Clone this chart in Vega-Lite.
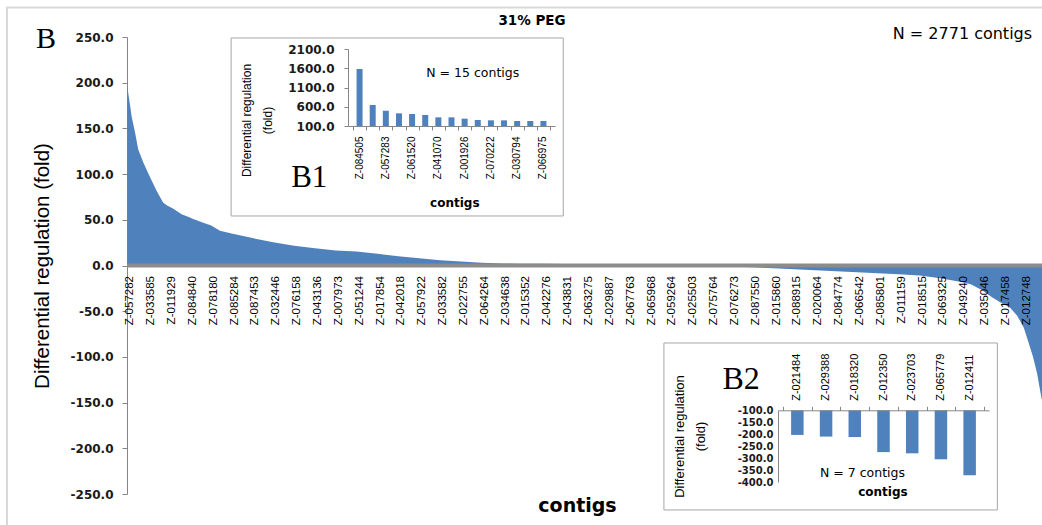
{
  "$schema": "https://vega.github.io/schema/vega-lite/v6.json",
  "width": 915,
  "height": 457,
  "autosize": {"type": "none"},
  "padding": {"left": 127, "top": 37, "right": 0, "bottom": 31},
  "background": "#ffffff",
  "config": {
    "font": "Liberation Sans",
    "view": {"stroke": null},
    "axis": {"grid": false, "labelOverlap": false, "domainColor": "#868686", "tickColor": "#868686", "labelColor": "#1a1a1a", "titleColor": "#000000", "labelExpr": "replace(datum.label, '\u2212', '-')"},
    "text": {"color": "#000000"}
  },
  "datasets": {
    "main": [
      {"rank": 1, "contig": "Z-057282", "fold": 197},
      {"rank": 4, "fold": 188},
      {"rank": 9, "fold": 176},
      {"rank": 14, "fold": 163},
      {"rank": 24, "fold": 146},
      {"rank": 34, "fold": 127},
      {"rank": 49, "fold": 113},
      {"rank": 64, "contig": "Z-033585", "fold": 101},
      {"rank": 89, "fold": 82},
      {"rank": 109, "fold": 69},
      {"rank": 120, "fold": 66},
      {"rank": 127, "contig": "Z-011929", "fold": 64.5},
      {"rank": 140, "fold": 62},
      {"rank": 165, "fold": 56},
      {"rank": 190, "contig": "Z-084840", "fold": 52.5},
      {"rank": 200, "fold": 51},
      {"rank": 241, "fold": 45.5},
      {"rank": 253, "contig": "Z-078180", "fold": 44},
      {"rank": 281, "fold": 38},
      {"rank": 316, "contig": "Z-085284", "fold": 35},
      {"rank": 379, "contig": "Z-087453", "fold": 30},
      {"rank": 442, "contig": "Z-032446", "fold": 25.5},
      {"rank": 505, "contig": "Z-076158", "fold": 21.7},
      {"rank": 568, "contig": "Z-043136", "fold": 19},
      {"rank": 631, "contig": "Z-007973", "fold": 16.5},
      {"rank": 694, "contig": "Z-051244", "fold": 15.2},
      {"rank": 757, "contig": "Z-017854", "fold": 12.8},
      {"rank": 820, "contig": "Z-042018", "fold": 10},
      {"rank": 883, "contig": "Z-057922", "fold": 7.8},
      {"rank": 946, "contig": "Z-033582", "fold": 5.8},
      {"rank": 1009, "contig": "Z-022755", "fold": 4.3},
      {"rank": 1072, "contig": "Z-064264", "fold": 3.1},
      {"rank": 1135, "contig": "Z-034638", "fold": 2.2},
      {"rank": 1198, "contig": "Z-015352", "fold": 1.9},
      {"rank": 1261, "contig": "Z-042276", "fold": 1.8},
      {"rank": 1324, "contig": "Z-043831", "fold": 1.6},
      {"rank": 1387, "contig": "Z-063275", "fold": 1.5},
      {"rank": 1450, "contig": "Z-029887", "fold": 1.4},
      {"rank": 1471, "fold": 1.3},
      {"rank": 1472, "fold": 0.8},
      {"rank": 1513, "contig": "Z-067763", "fold": 0.7},
      {"rank": 1576, "contig": "Z-065968", "fold": 0.5},
      {"rank": 1639, "contig": "Z-059264", "fold": 0.2},
      {"rank": 1702, "contig": "Z-025503", "fold": 0},
      {"rank": 1765, "contig": "Z-075764", "fold": -0.5},
      {"rank": 1828, "contig": "Z-076273", "fold": -1.2},
      {"rank": 1891, "contig": "Z-087550", "fold": -2},
      {"rank": 1954, "contig": "Z-015860", "fold": -3},
      {"rank": 2017, "contig": "Z-088915", "fold": -4.2},
      {"rank": 2080, "contig": "Z-020064", "fold": -5.2},
      {"rank": 2143, "contig": "Z-084774", "fold": -6.3},
      {"rank": 2206, "contig": "Z-066542", "fold": -7.3},
      {"rank": 2269, "contig": "Z-085801", "fold": -8.5},
      {"rank": 2332, "contig": "Z-011159", "fold": -9.6},
      {"rank": 2395, "contig": "Z-018515", "fold": -11},
      {"rank": 2458, "contig": "Z-069325", "fold": -14},
      {"rank": 2521, "contig": "Z-049240", "fold": -18},
      {"rank": 2550, "fold": -20.5},
      {"rank": 2584, "contig": "Z-035046", "fold": -27},
      {"rank": 2615, "fold": -35},
      {"rank": 2647, "contig": "Z-017458", "fold": -42},
      {"rank": 2668, "fold": -46},
      {"rank": 2690, "fold": -55},
      {"rank": 2710, "contig": "Z-012748", "fold": -68},
      {"rank": 2725, "fold": -85},
      {"rank": 2738, "fold": -100},
      {"rank": 2750, "fold": -118},
      {"rank": 2760, "fold": -138},
      {"rank": 2771, "fold": -160}
    ],
    "b1": [
      {"pos": 1, "contig": "Z-084505", "fold": 1580},
      {"pos": 2, "fold": 645},
      {"pos": 3, "contig": "Z-057283", "fold": 498},
      {"pos": 4, "fold": 429},
      {"pos": 5, "contig": "Z-061520", "fold": 412},
      {"pos": 6, "fold": 386},
      {"pos": 7, "contig": "Z-041070", "fold": 325},
      {"pos": 8, "fold": 325},
      {"pos": 9, "contig": "Z-001926", "fold": 290},
      {"pos": 10, "fold": 256},
      {"pos": 11, "contig": "Z-070222", "fold": 247},
      {"pos": 12, "fold": 247},
      {"pos": 13, "contig": "Z-030794", "fold": 230},
      {"pos": 14, "fold": 230},
      {"pos": 15, "contig": "Z-066975", "fold": 230}
    ],
    "b2": [
      {"pos": 1, "contig": "Z-021484", "fold": -203},
      {"pos": 2, "contig": "Z-029388", "fold": -210},
      {"pos": 3, "contig": "Z-018320", "fold": -212},
      {"pos": 4, "contig": "Z-012350", "fold": -275},
      {"pos": 5, "contig": "Z-023703", "fold": -280},
      {"pos": 6, "contig": "Z-065779", "fold": -305},
      {"pos": 7, "contig": "Z-012411", "fold": -372}
    ]
  },
  "layer": [
    {
      "layer": [
        {
          "data": {"name": "main"},
          "mark": {"type": "area", "color": "#4f81bd", "interpolate": "linear"},
          "encoding": {
            "x": {"field": "rank", "type": "quantitative", "scale": {"domain": [0, 2771], "range": [0, 917], "nice": false, "zero": false},
              "axis": {"orient": "bottom", "labels": false, "ticks": false, "domain": false, "title": "contigs", "titleFont": "DejaVu Sans", "titleFontSize": 19, "titleFontWeight": "bold", "titleX": 450, "titleY": 11, "titleBaseline": "middle"}},
            "y": {"field": "fold", "type": "quantitative", "scale": {"domain": [-250, 250], "range": [457, 0], "nice": false, "zero": false},
              "axis": {"orient": "left", "values": [-250, -200, -150, -100, -50, 0, 50, 100, 150, 200, 250], "format": ".1f", "labelFont": "DejaVu Sans", "labelFontWeight": "bold", "labelFontSize": 12, "labelPadding": 9, "tickSize": 5,
                "title": "Differential regulation (fold)", "titleFont": "Liberation Sans", "titleFontSize": 20.5, "titleFontWeight": "normal", "titleX": -85, "titleBaseline": "middle"}}
          }
        },
        {
          "data": {"values": [{}]},
          "mark": {"type": "rect", "filled": false, "stroke": "#d9d9d9", "strokeWidth": 2},
          "encoding": {
            "x": {"datum": -362.6, "type": "quantitative", "scale": {"domain": [0, 2771], "range": [0, 917], "nice": false, "zero": false}},
            "x2": {"datum": 3000},
            "y": {"datum": 282.3, "type": "quantitative", "scale": {"domain": [-250, 250], "range": [457, 0], "nice": false, "zero": false}},
            "y2": {"datum": -300}
          }
        },
        {
          "data": {"values": [{}]},
          "mark": {"type": "rule", "color": "#8c8c8c", "strokeWidth": 4},
          "encoding": {
            "y": {"datum": 0, "type": "quantitative", "scale": {"domain": [-250, 250], "range": [457, 0], "nice": false, "zero": false}}
          }
        },
        {
          "data": {"name": "main"},
          "transform": [{"filter": "isValid(datum.contig)"}],
          "mark": {"type": "text", "angle": 270, "align": "right", "baseline": "middle", "dx": -10.5, "dy": 3, "font": "Liberation Sans", "fontSize": 11.5},
          "encoding": {
            "x": {"field": "rank", "type": "quantitative", "scale": {"domain": [0, 2771], "range": [0, 917], "nice": false, "zero": false}},
            "y": {"datum": 0, "type": "quantitative", "scale": {"domain": [-250, 250], "range": [457, 0], "nice": false, "zero": false}},
            "text": {"field": "contig"}
          }
        },
        {
          "data": {"values": [{"label": "B", "xr": -245, "yv": 247.8}]},
          "mark": {"type": "text", "font": "Liberation Serif", "fontSize": 30, "align": "center", "baseline": "middle"},
          "encoding": {
            "x": {"field": "xr", "type": "quantitative", "scale": {"domain": [0, 2771], "range": [0, 917], "nice": false, "zero": false}},
            "y": {"field": "yv", "type": "quantitative", "scale": {"domain": [-250, 250], "range": [457, 0], "nice": false, "zero": false}},
            "text": {"field": "label"}
          }
        },
        {
          "data": {"values": [{"label": "31% PEG", "xr": 1224, "yv": 267}]},
          "mark": {"type": "text", "font": "DejaVu Sans", "fontWeight": "bold", "fontSize": 13.5, "align": "center", "baseline": "middle"},
          "encoding": {
            "x": {"field": "xr", "type": "quantitative", "scale": {"domain": [0, 2771], "range": [0, 917], "nice": false, "zero": false}},
            "y": {"field": "yv", "type": "quantitative", "scale": {"domain": [-250, 250], "range": [457, 0], "nice": false, "zero": false}},
            "text": {"field": "label"}
          }
        },
        {
          "data": {"values": [{"label": "N = 2771 contigs", "xr": 2735, "yv": 253.8}]},
          "mark": {"type": "text", "font": "DejaVu Sans", "fontSize": 16, "align": "right", "baseline": "middle"},
          "encoding": {
            "x": {"field": "xr", "type": "quantitative", "scale": {"domain": [0, 2771], "range": [0, 917], "nice": false, "zero": false}},
            "y": {"field": "yv", "type": "quantitative", "scale": {"domain": [-250, 250], "range": [457, 0], "nice": false, "zero": false}},
            "text": {"field": "label"}
          }
        }
      ]
    },
    {
      "layer": [
        {
          "data": {"values": [{}]},
          "mark": {"type": "rect", "fill": "#ffffff", "stroke": "#a6a6a6", "strokeWidth": 1},
          "encoding": {
            "x": {"datum": -8.78, "type": "quantitative", "scale": {"domain": [0.5, 15.5], "range": [221, 428], "nice": false, "zero": false},
              "axis": {"orient": "bottom", "offset": -368, "zindex": 2, "values": [0.5, 1.5, 2.5, 3.5, 4.5, 5.5, 6.5, 7.5, 8.5, 9.5, 10.5, 11.5, 12.5, 13.5, 14.5, 15.5], "labels": false, "tickSize": 4, "title": null}},
            "x2": {"datum": 16.51},
            "y": {"datum": 2386, "type": "quantitative", "scale": {"domain": [100, 2100], "range": [89, 12], "nice": false, "zero": false},
              "axis": {"orient": "left", "offset": -221, "zindex": 2, "values": [100, 600, 1100, 1600, 2100], "format": ".1f", "labelFont": "DejaVu Sans", "labelFontWeight": "bold", "labelFontSize": 12, "labelPadding": 10, "tickSize": 4,
                "title": ["Differential regulation", "(fold)"], "titleFont": "Liberation Sans", "titleFontSize": 12, "titleFontWeight": "normal", "titleLineHeight": 21, "titleX": -102, "titleY": 83, "titleBaseline": "middle"}},
            "y2": {"datum": -2237}
          }
        },
        {
          "data": {"name": "b1"},
          "mark": {"type": "bar", "color": "#4f81bd", "size": 6},
          "encoding": {
            "x": {"field": "pos", "type": "quantitative", "scale": {"domain": [0.5, 15.5], "range": [221, 428], "nice": false, "zero": false}},
            "y": {"field": "fold", "type": "quantitative", "scale": {"domain": [100, 2100], "range": [89, 12], "nice": false, "zero": false}},
            "y2": {"datum": 100}
          }
        },
        {
          "data": {"name": "b1"},
          "transform": [{"filter": "isValid(datum.contig)"}],
          "mark": {"type": "text", "angle": 270, "align": "right", "baseline": "middle", "dx": -10.5, "font": "Liberation Sans", "fontSize": 10},
          "encoding": {
            "x": {"field": "pos", "type": "quantitative", "scale": {"domain": [0.5, 15.5], "range": [221, 428], "nice": false, "zero": false}},
            "y": {"datum": 100, "type": "quantitative", "scale": {"domain": [100, 2100], "range": [89, 12], "nice": false, "zero": false}},
            "text": {"field": "contig"}
          }
        },
        {
          "data": {"values": [{"label": "N = 15 contigs", "xp": 6.08, "yv": 1476}]},
          "mark": {"type": "text", "baseline": "middle", "align": "left", "font": "DejaVu Sans", "fontSize": 12.5},
          "encoding": {
            "x": {"field": "xp", "type": "quantitative", "scale": {"domain": [0.5, 15.5], "range": [221, 428], "nice": false, "zero": false}},
            "y": {"field": "yv", "type": "quantitative", "scale": {"domain": [100, 2100], "range": [89, 12], "nice": false, "zero": false}},
            "text": {"field": "label"}
          }
        },
        {
          "data": {"values": [{"label": "B1", "xp": -2.83, "yv": -1250}]},
          "mark": {"type": "text", "baseline": "middle", "align": "center", "font": "Liberation Serif", "fontSize": 31},
          "encoding": {
            "x": {"field": "xp", "type": "quantitative", "scale": {"domain": [0.5, 15.5], "range": [221, 428], "nice": false, "zero": false}},
            "y": {"field": "yv", "type": "quantitative", "scale": {"domain": [100, 2100], "range": [89, 12], "nice": false, "zero": false}},
            "text": {"field": "label"}
          }
        },
        {
          "data": {"values": [{"label": "contigs", "xp": 8.25, "yv": -1900}]},
          "mark": {"type": "text", "baseline": "middle", "align": "center", "font": "DejaVu Sans", "fontWeight": "bold", "fontSize": 12},
          "encoding": {
            "x": {"field": "xp", "type": "quantitative", "scale": {"domain": [0.5, 15.5], "range": [221, 428], "nice": false, "zero": false}},
            "y": {"field": "yv", "type": "quantitative", "scale": {"domain": [100, 2100], "range": [89, 12], "nice": false, "zero": false}},
            "text": {"field": "label"}
          }
        }
      ]
    },
    {
      "layer": [
        {
          "data": {"values": [{}]},
          "mark": {"type": "rect", "fill": "#ffffff", "stroke": "#a6a6a6", "strokeWidth": 1},
          "encoding": {
            "x": {"datum": -3.647, "type": "quantitative", "scale": {"domain": [0.5, 7.5], "range": [651, 862], "nice": false, "zero": false},
              "axis": {"orient": "top", "offset": -373.3, "zindex": 2, "values": [0.5, 1.5, 2.5, 3.5, 4.5, 5.5, 6.5, 7.5], "labels": false, "tickSize": 4, "title": null}},
            "x2": {"datum": 7.965},
            "y": {"datum": 181.6, "type": "quantitative", "scale": {"domain": [-400, -100], "range": [445, 373.3], "nice": false, "zero": false},
              "axis": {"orient": "left", "offset": -651, "zindex": 2, "values": [-400, -350, -300, -250, -200, -150, -100], "format": ".1f", "labelFont": "DejaVu Sans", "labelFontWeight": "bold", "labelFontSize": 10, "labelPadding": 5, "ticks": false,
                "title": ["Differential regulation", "(fold)"], "titleFont": "Liberation Sans", "titleFontSize": 13, "titleFontWeight": "normal", "titleLineHeight": 21, "titleX": -99, "titleY": 399, "titleBaseline": "middle"}},
            "y2": {"datum": -517}
          }
        },
        {
          "data": {"name": "b2"},
          "mark": {"type": "bar", "color": "#4f81bd", "size": 12.5},
          "encoding": {
            "x": {"field": "pos", "type": "quantitative", "scale": {"domain": [0.5, 7.5], "range": [651, 862], "nice": false, "zero": false}},
            "y": {"field": "fold", "type": "quantitative", "scale": {"domain": [-400, -100], "range": [445, 373.3], "nice": false, "zero": false}},
            "y2": {"datum": -100}
          }
        },
        {
          "data": {"name": "b2"},
          "mark": {"type": "text", "angle": 270, "align": "left", "baseline": "middle", "dx": 9.5, "font": "Liberation Sans", "fontSize": 11},
          "encoding": {
            "x": {"field": "pos", "type": "quantitative", "scale": {"domain": [0.5, 7.5], "range": [651, 862], "nice": false, "zero": false}},
            "y": {"datum": -100, "type": "quantitative", "scale": {"domain": [-400, -100], "range": [445, 373.3], "nice": false, "zero": false}},
            "text": {"field": "contig"}
          }
        },
        {
          "data": {"values": [{"label": "B2", "xp": -0.96, "yv": 31}]},
          "mark": {"type": "text", "baseline": "middle", "align": "center", "font": "Liberation Serif", "fontSize": 32},
          "encoding": {
            "x": {"field": "xp", "type": "quantitative", "scale": {"domain": [0.5, 7.5], "range": [651, 862], "nice": false, "zero": false}},
            "y": {"field": "yv", "type": "quantitative", "scale": {"domain": [-400, -100], "range": [445, 373.3], "nice": false, "zero": false}},
            "text": {"field": "label"}
          }
        },
        {
          "data": {"values": [{"label": "N = 7 contigs", "xp": 1.79, "yv": -362.3}]},
          "mark": {"type": "text", "baseline": "middle", "align": "left", "font": "DejaVu Sans", "fontSize": 12.5},
          "encoding": {
            "x": {"field": "xp", "type": "quantitative", "scale": {"domain": [0.5, 7.5], "range": [651, 862], "nice": false, "zero": false}},
            "y": {"field": "yv", "type": "quantitative", "scale": {"domain": [-400, -100], "range": [445, 373.3], "nice": false, "zero": false}},
            "text": {"field": "label"}
          }
        },
        {
          "data": {"values": [{"label": "contigs", "xp": 3.98, "yv": -441.8}]},
          "mark": {"type": "text", "baseline": "middle", "align": "center", "font": "DejaVu Sans", "fontWeight": "bold", "fontSize": 12},
          "encoding": {
            "x": {"field": "xp", "type": "quantitative", "scale": {"domain": [0.5, 7.5], "range": [651, 862], "nice": false, "zero": false}},
            "y": {"field": "yv", "type": "quantitative", "scale": {"domain": [-400, -100], "range": [445, 373.3], "nice": false, "zero": false}},
            "text": {"field": "label"}
          }
        }
      ]
    }
  ],
  "resolve": {"scale": {"x": "independent", "y": "independent"}, "axis": {"x": "independent", "y": "independent"}}
}
